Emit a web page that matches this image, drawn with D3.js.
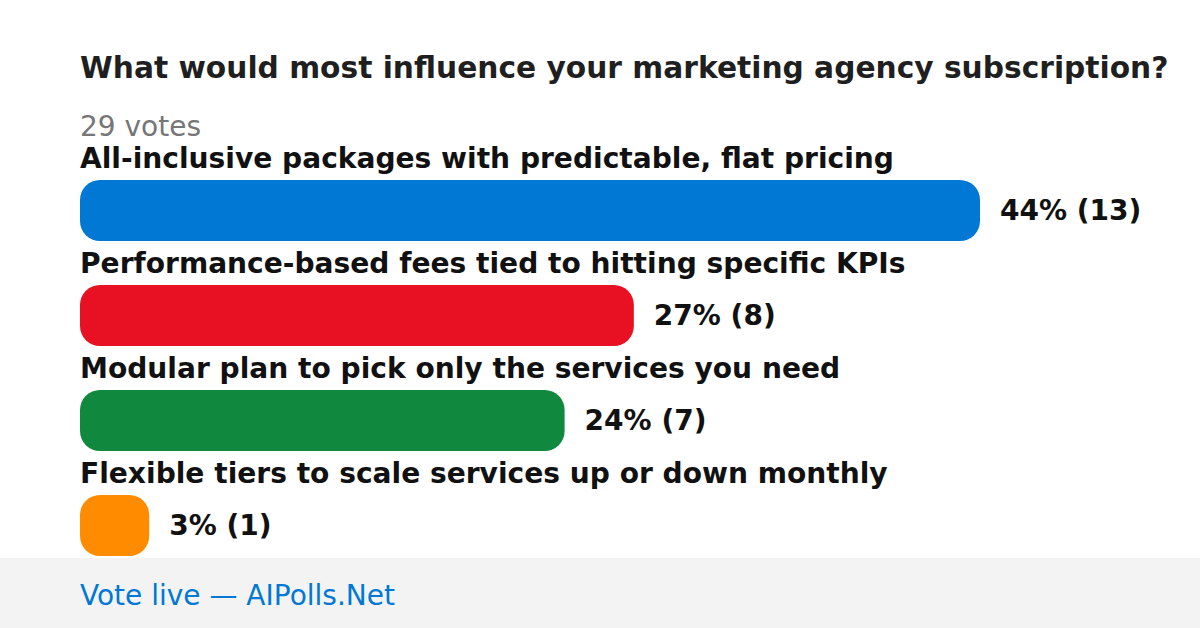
<!DOCTYPE html>
<html><head><meta charset="utf-8">
<script src="https://cdn.jsdelivr.net/npm/d3@7"></script>
<style>html,body{margin:0;padding:0;background:#fff;}svg{display:block;}</style>
</head><body>
<svg id="c" width="1200" height="628"></svg>
<script>
const title = "What would most influence your marketing agency subscription?";
const totalVotes = 29;
const categories = [
  "All-inclusive packages with predictable, flat pricing",
  "Performance-based fees tied to hitting specific KPIs",
  "Modular plan to pick only the services you need",
  "Flexible tiers to scale services up or down monthly"
];
const votes = [13, 8, 7, 1];
const percents = [44, 27, 24, 3];
const colors = ["#0078d4", "#e81123", "#10893e", "#ff8c00"];
const footerText = "Vote live — AIPolls.Net";

const svg = d3.select("#c");
const font = "DejaVu Sans, sans-serif";
svg.append("rect").attr("width",1200).attr("height",628).attr("fill","#fff");

svg.append("text").attr("x",80).attr("y",78).attr("font-family",font)
  .attr("font-size",29.7).attr("font-weight","bold").attr("fill","#1f1f1f").text(title);
svg.append("text").attr("x",80).attr("y",136).attr("font-family",font)
  .attr("font-size",28).attr("fill","#767676").text(totalVotes + " votes");

const x = d3.scaleLinear().domain([0, d3.max(votes)]).range([0, 900]);
const y = d3.scaleBand().domain(d3.range(categories.length)).range([145, 565]).paddingInner(0).paddingOuter(0);

const g = svg.selectAll("g.row").data(categories).enter().append("g").attr("class","row")
  .attr("transform",(d,i)=>`translate(0,${y(i)})`);
g.append("text").attr("x",80).attr("y",23).attr("font-family",font)
  .attr("font-size",28.1).attr("font-weight","bold").attr("fill","#111").text(d=>d);
g.append("rect").attr("x",80).attr("y",35).attr("height",61)
  .attr("width",(d,i)=>x(votes[i])).attr("rx",20).attr("ry",20)
  .attr("fill",(d,i)=>colors[i]);
g.append("text").attr("x",(d,i)=>80 + x(votes[i]) + 20).attr("y",75).attr("font-family",font)
  .attr("font-size",28).attr("font-weight","bold").attr("fill","#111")
  .text((d,i)=>`${percents[i]}% (${votes[i]})`);

svg.append("rect").attr("x",0).attr("y",558).attr("width",1200).attr("height",70).attr("fill","#f3f3f3");
svg.append("text").attr("x",80).attr("y",605).attr("font-family",font)
  .attr("font-size",28).attr("fill","#0078d4").text(footerText);
</script>
</body></html>
